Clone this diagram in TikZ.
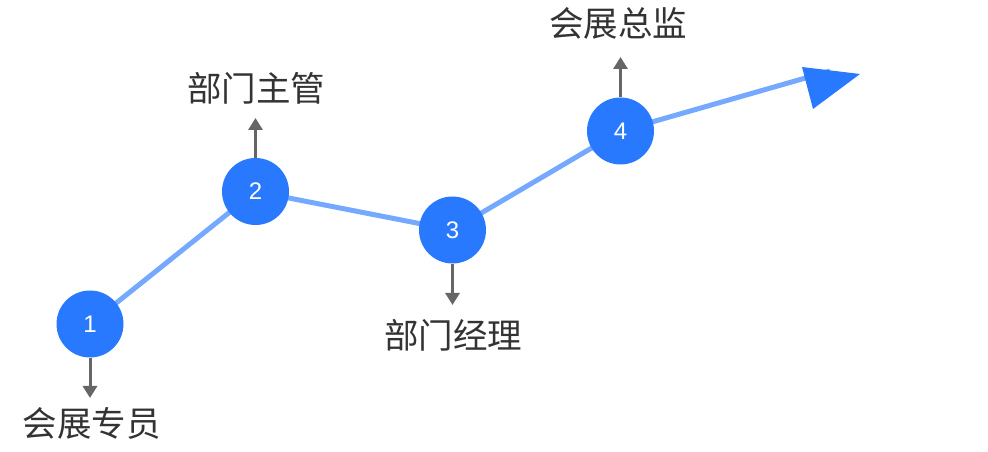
\documentclass[tikz,border=0pt]{standalone}
\usepackage{fontspec}
\setmainfont{Noto Sans CJK SC}
\newfontfamily\digitfont{Liberation Sans}
\usetikzlibrary{arrows.meta}
\definecolor{circblue}{HTML}{2979FF}
\definecolor{lineblue}{HTML}{74A9FF}
\definecolor{arrgray}{HTML}{666666}
\definecolor{txtgray}{HTML}{333333}
\tikzset{
  stepcirc/.style={circle, fill=circblue, minimum size=67pt, inner sep=0pt, text=white, font=\digitfont\fontsize{24}{28}\selectfont},
  trend/.style={draw=lineblue, line width=5pt},
  pointer/.style={draw=arrgray, line width=3pt, -{Triangle[width=14pt,length=12pt]}},
  role/.style={text=txtgray, font=\fontsize{34.5}{38}\selectfont, inner sep=0pt}
}
\begin{document}
\begin{tikzpicture}[x=1pt,y=1pt]
\useasboundingbox (0,0) rectangle (988,452);
\coordinate (p1) at (90,128);
\coordinate (p2) at (255.5,260.5);
\coordinate (p3) at (452.5,222);
\coordinate (p4) at (620.5,321);
\coordinate (lend) at (830,381);
\draw[trend] (p1) -- (p2) -- (p3) -- (p4) -- (lend);
\fill[circblue] (802,385) -- (860,378) -- (813,343) -- cycle;
\node[stepcirc] (c1) at (p1) {1};
\node[stepcirc] (c2) at (p2) {2};
\node[stepcirc] (c3) at (p3) {3};
\node[stepcirc] (c4) at (p4) {4};
\coordinate (t1) at (90,54);
\coordinate (t2) at (255.5,334);
\coordinate (t3) at (452.5,147);
\coordinate (t4) at (620.5,395);
\draw[pointer] (c1.south) -- (t1);
\draw[pointer] (c2.north) -- (t2);
\draw[pointer] (c3.south) -- (t3);
\draw[pointer] (c4.north) -- (t4);
\node[role] (r1) at (92,29) {会展专员};
\node[role] (r2) at (256,364) {部门主管};
\node[role] (r3) at (453,117) {部门经理};
\node[role] (r4) at (618,429) {会展总监};
\end{tikzpicture}
\end{document}
